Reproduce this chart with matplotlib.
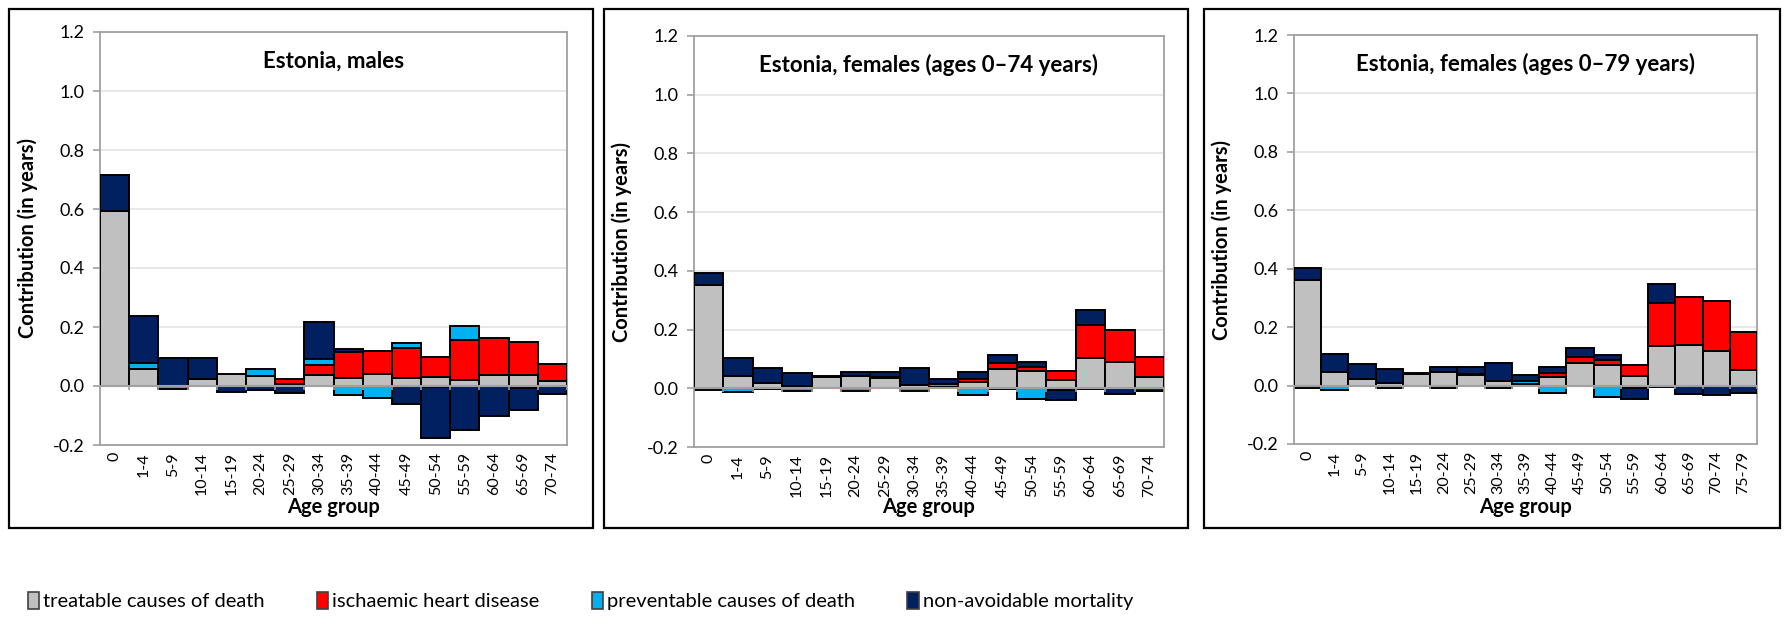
import matplotlib
matplotlib.use("Agg")
import matplotlib.pyplot as plt
from matplotlib.patches import Patch, Rectangle
import numpy as np

plt.rcParams['font.family'] = ['Lato', 'DejaVu Sans']

# ---- categories ----
ages_74 = ["0", "1-4", "5-9", "10-14", "15-19", "20-24", "25-29", "30-34",
           "35-39", "40-44", "45-49", "50-54", "55-59", "60-64", "65-69", "70-74"]
ages_79 = ages_74 + ["75-79"]

series_names = ["treatable causes of death", "ischaemic heart disease",
                "preventable causes of death", "non-avoidable mortality"]
series_colors = ["#C0C0C0", "#FF0000", "#00B0F0", "#002060"]

# ---- Estonia, males ----
m_treatable = [0.594, 0.057, 0.000, 0.023, 0.041, 0.034, 0.007, 0.037,
               0.026, 0.041, 0.028, 0.029, 0.020, 0.037, 0.037, 0.018]
m_ihd       = [0.000, 0.000, 0.000, 0.000, 0.000, 0.000, 0.018, 0.034,
               0.090, 0.078, 0.100, 0.069, 0.136, 0.127, 0.111, 0.058]
m_prevent   = [0.000, 0.022, -0.010, 0.000, 0.000, 0.023, 0.000, 0.019,
               -0.032, -0.040, 0.017, -0.003, 0.046, 0.000, -0.008, 0.000]
m_nonavoid  = [0.120, 0.158, 0.096, 0.073, -0.020, -0.015, -0.025, 0.127,
               0.009, -0.002, -0.062, -0.173, -0.149, -0.100, -0.072, -0.028]

# ---- Estonia, females (ages 0-74) ----
f74_treatable = [0.353, 0.042, 0.019, 0.009, 0.037, 0.042, 0.034, 0.011,
                 0.006, 0.023, 0.067, 0.058, 0.027, 0.103, 0.091, 0.040]
f74_ihd       = [0.000, 0.000, 0.000, 0.000, 0.000, 0.000, 0.003, 0.000,
                 0.000, 0.010, 0.019, 0.015, 0.032, 0.114, 0.106, 0.065]
f74_prevent   = [-0.006, -0.012, -0.002, -0.010, 0.000, -0.008, 0.000, -0.008,
                 0.008, -0.024, -0.002, -0.036, -0.006, -0.004, 0.000, 0.000]
f74_nonavoid  = [0.038, 0.060, 0.050, 0.042, 0.004, 0.014, 0.020, 0.058,
                 0.017, 0.023, 0.027, 0.018, -0.033, 0.050, -0.018, -0.010]

# ---- Estonia, females (ages 0-79) ----
f79_treatable = [0.363, 0.048, 0.023, 0.010, 0.038, 0.048, 0.037, 0.014,
                 0.007, 0.030, 0.077, 0.069, 0.034, 0.135, 0.139, 0.119, 0.054]
f79_ihd       = [0.000, 0.000, 0.000, 0.000, 0.000, 0.000, 0.004, 0.000,
                 0.000, 0.012, 0.020, 0.019, 0.037, 0.147, 0.163, 0.170, 0.131]
f79_prevent   = [-0.007, -0.014, -0.003, -0.010, 0.000, -0.007, 0.000, -0.008,
                 0.010, -0.025, -0.003, -0.040, -0.010, -0.006, 0.000, 0.000, 0.000]
f79_nonavoid  = [0.040, 0.061, 0.050, 0.046, 0.005, 0.014, 0.022, 0.063,
                 0.020, 0.022, 0.032, 0.017, -0.036, 0.065, -0.030, -0.032, -0.026]

panels = [
    ("Estonia, males", ages_74, [m_treatable, m_ihd, m_prevent, m_nonavoid]),
    ("Estonia, females (ages 0\u201374 years)", ages_74,
     [f74_treatable, f74_ihd, f74_prevent, f74_nonavoid]),
    ("Estonia, females (ages 0\u201379 years)", ages_79,
     [f79_treatable, f79_ihd, f79_prevent, f79_nonavoid]),
]

W, H = 1789, 618
fig = plt.figure(figsize=(W / 100, H / 100), dpi=100)

# axes rectangles in pixels: left, right, top, bottom
axes_px = [(100, 567, 32, 445), (694, 1164, 36, 447), (1294, 1757, 35, 444)]
# outer frames in pixels: left, right, top, bottom
frames_px = [(9, 593, 9, 528), (604, 1188, 9, 528), (1204, 1780, 9, 528)]

grid_col = "#E4E4E4"
axis_col = "#A0A0A0"

for (title, cats, values), (l, r, t, b), (fl, fr, ft, fb) in zip(panels, axes_px, frames_px):
    ax = fig.add_axes([l / W, 1 - b / H, (r - l) / W, (b - t) / H])
    n = len(cats)
    x = np.arange(n)
    pos_base = np.zeros(n)
    neg_base = np.zeros(n)
    for vals, col in zip(values, series_colors):
        v = np.asarray(vals, dtype=float)
        pm = v > 0
        nm = v < 0
        ax.bar(x[pm], v[pm], width=1.0, bottom=pos_base[pm], color=col,
               edgecolor="black", linewidth=1.4, zorder=3)
        ax.bar(x[nm], v[nm], width=1.0, bottom=neg_base[nm], color=col,
               edgecolor="black", linewidth=1.4, zorder=3)
        pos_base = pos_base + np.where(pm, v, 0)
        neg_base = neg_base + np.where(nm, v, 0)

    ax.set_xlim(-0.5, n - 0.5)
    ax.set_ylim(-0.2, 1.2)
    ax.set_yticks(np.arange(-0.2, 1.21, 0.2))
    ax.set_yticklabels([f"{v:.1f}" for v in np.arange(-0.2, 1.21, 0.2)])
    ax.yaxis.grid(True, color=grid_col, linewidth=1.2, zorder=0)
    ax.set_axisbelow(True)
    for s in ax.spines.values():
        s.set_color(axis_col)
        s.set_linewidth(1.3)
    ax.tick_params(axis="y", direction="out", length=5, width=1.2,
                   color=axis_col, labelsize=13, pad=6)
    ax.set_xticks(x)
    ax.set_xticklabels(cats, rotation=90, fontsize=11.5)
    ax.tick_params(axis="x", length=0, pad=5)

    # category axis at zero with small ticks between categories
    ax.axhline(0, color=axis_col, linewidth=1.5, zorder=4)
    ax.vlines(np.arange(n + 1) - 0.5, -0.012, 0, color=axis_col,
              linewidth=1.2, zorder=4)

    ax.text(0.5, 0.93, title, transform=ax.transAxes, ha="center", va="center",
            fontsize=16, fontweight="bold")
    ax.set_ylabel("Contribution (in years)", fontsize=14.5, fontweight="bold")
    ax.yaxis.label.set_va("center")
    ax.yaxis.set_label_coords(-72 / (r - l), 0.5)
    ax.set_xlabel("Age group", fontsize=14.5, fontweight="bold")
    ax.xaxis.label.set_va("center")
    ax.xaxis.set_label_coords(0.5, -(507 - b) / (b - t))

    fig.add_artist(Rectangle((fl / W, 1 - fb / H), (fr - fl) / W, (fb - ft) / H,
                             transform=fig.transFigure, fill=False,
                             edgecolor="black", linewidth=1.6))

handles = [Patch(facecolor=c, edgecolor="#404040", linewidth=1.2) for c in series_colors]
fig.legend(handles, series_names, loc="center left",
           bbox_to_anchor=(20 / W, 1 - 601 / H), ncol=4, frameon=False,
           fontsize=14.5, handlelength=0.55, handleheight=0.9,
           handletextpad=0.2, columnspacing=2.6, borderaxespad=0)

fig.savefig("out.png", dpi=100)
